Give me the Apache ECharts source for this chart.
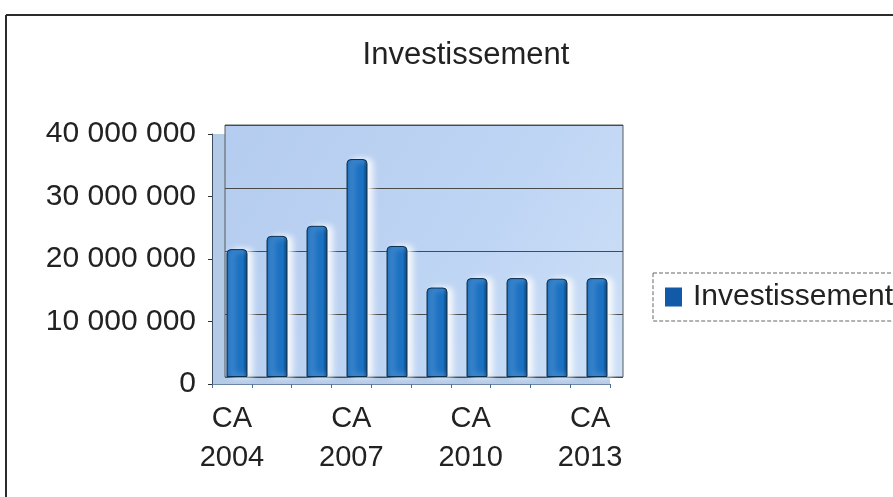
<!DOCTYPE html>
<html>
<head>
<meta charset="utf-8">
<title>Investissement</title>
<script src="https://cdn.jsdelivr.net/npm/echarts@6/dist/echarts.min.js"></script>
<style>
  html, body { margin: 0; padding: 0; background: #ffffff; }
  #chart { width: 893px; height: 497px; }
</style>
</head>
<body>
<div id="chart"></div>
<script>
// Annual investment per budget account (CA = compte administratif)
const categories = ['CA 2004', 'CA 2005', 'CA 2006', 'CA 2007', 'CA 2008',
                    'CA 2009', 'CA 2010', 'CA 2011', 'CA 2012', 'CA 2013'];
const investissement = [20300000, 22400000, 24000000, 34600000, 20800000,
                        14200000, 15700000, 15700000, 15600000, 15700000];
const yTicks = [0, 10000000, 20000000, 30000000, 40000000];
const yTickLabels = ['0', '10 000 000', '20 000 000', '30 000 000', '40 000 000'];

const FONT = '"Liberation Sans", Arial, sans-serif';
const yMin = yTicks[0];
const yMax = yTicks[yTicks.length - 1];
const yStep = yTicks[1] - yTicks[0];

const chart = echarts.init(document.getElementById('chart'), null, { renderer: 'canvas' });

chart.setOption({
  animation: false,
  backgroundColor: '#ffffff',
  title: {
    text: 'Investissement',
    left: 461,
    top: 35,
    textAlign: 'center',
    textStyle: {
      fontFamily: FONT,
      fontSize: 31,
      fontWeight: 'normal',
      color: '#222222'
    }
  },
  legend: {
    left: 653,
    top: 273,
    orient: 'vertical',
    padding: [9, 14, 9, 12],
    borderColor: '#666666',
    borderWidth: 1,
    borderType: 'dashed',
    itemWidth: 17,
    itemHeight: 19,
    icon: 'rect',
    itemStyle: { color: '#1259a8', borderWidth: 0 },
    textStyle: {
      fontFamily: FONT,
      fontSize: 30,
      color: '#222222',
      padding: [0, 0, 0, 6]
    },
    data: ['Investissement']
  },
  grid: [
    // back wall of the box
    { left: 225, right: 270, top: 125, bottom: 120, show: true, z: 0,
      backgroundColor: new echarts.graphic.LinearGradient(0, 0, 1, 1, [
        { offset: 0, color: '#b4ccef' },
        { offset: 0.6, color: '#bfd5f4' },
        { offset: 1, color: '#cde0f7' }
      ]),
      borderColor: '#5a5a5a', borderWidth: 1 },
    // columns
    { left: 217, right: 276, top: 125, bottom: 120 },
    // front axes (side wall and floor edge)
    { left: 212, right: 283, top: 134, bottom: 113, show: true, z: -1,
      backgroundColor: '#b4cbe8', borderWidth: 0 }
  ],
  xAxis: [
    { gridIndex: 0, type: 'category', data: categories, show: false },
    { gridIndex: 1, type: 'category', data: categories, show: false },
    { gridIndex: 2, type: 'category', data: categories,
      axisLine: { show: true, lineStyle: { color: '#6c86a8', width: 1 } },
      axisTick: { show: true, interval: 0, length: 4, lineStyle: { color: '#4d6d99' } },
      axisLabel: {
        interval: 2,
        margin: 15,
        fontFamily: FONT,
        fontSize: 29,
        lineHeight: 39,
        color: '#222222',
        formatter: (v) => v.replace(' ', '\n')
      },
      splitLine: { show: false }
    }
  ],
  yAxis: [
    { gridIndex: 0, type: 'value', min: yMin, max: yMax, interval: yStep,
      axisLine: { show: false }, axisTick: { show: false }, axisLabel: { show: false },
      splitLine: { show: true, lineStyle: { color: '#4a4a4a', width: 1 } } },
    { gridIndex: 1, type: 'value', min: yMin, max: yMax, interval: yStep, show: false,
      splitLine: { show: false } },
    { gridIndex: 2, type: 'value', min: yMin, max: yMax, interval: yStep,
      axisLine: { show: true, lineStyle: { color: '#3d4d66', width: 1 } },
      axisTick: { show: true, length: 4, lineStyle: { color: '#333333' } },
      splitLine: { show: false },
      axisLabel: {
        margin: 16,
        fontFamily: FONT,
        fontSize: 30,
        color: '#222222',
        formatter: (v) => {
          const i = yTicks.indexOf(v);
          return i >= 0 ? yTickLabels[i] : '';
        }
      }
    }
  ],
  series: [
    {
      name: 'Investissement',
      type: 'bar',
      xAxisIndex: 1,
      yAxisIndex: 1,
      barWidth: 21,
      data: investissement,
      itemStyle: {
        color: new echarts.graphic.LinearGradient(0, 0, 1, 0, [
          { offset: 0, color: '#0c4066' },
          { offset: 0.1, color: '#1a6fc0' },
          { offset: 0.78, color: '#1b72c3' },
          { offset: 0.9, color: '#125392' },
          { offset: 1, color: '#0b3a5c' }
        ]),
        borderColor: '#0a3050',
        borderWidth: 1,
        borderRadius: [4, 4, 0, 0],
        shadowColor: 'rgba(255,255,255,0.95)',
        shadowBlur: 6,
        shadowOffsetX: 5
      }
    }
  ],
  graphic: [
    // outer frame (top and left edges)
    { type: 'line', shape: { x1: 6, y1: 15, x2: 893, y2: 15 },
      style: { stroke: '#2b2b2b', lineWidth: 2 }, silent: true },
    { type: 'line', shape: { x1: 6, y1: 15, x2: 6, y2: 497 },
      style: { stroke: '#2b2b2b', lineWidth: 2 }, silent: true }
  ]
});
</script>
</body>
</html>
